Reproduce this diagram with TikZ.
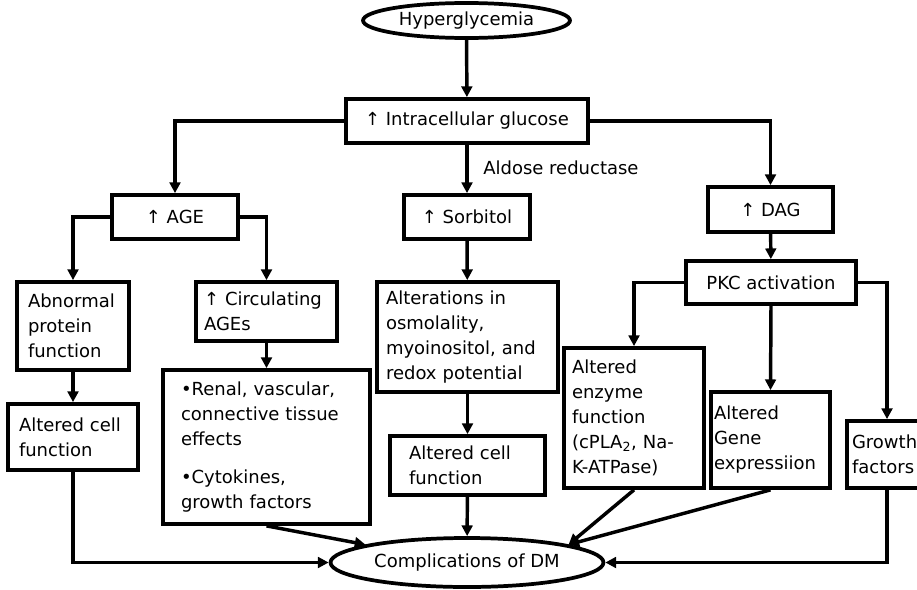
\documentclass[tikz,border=0pt]{standalone}
\usepackage{fontspec}
\setmainfont{DejaVu Sans}
\usetikzlibrary{arrows.meta,shapes.geometric}
\begin{document}
\begin{tikzpicture}[x=0.75pt,y=-0.75pt,
  font=\fontsize{13.5}{18.75}\selectfont,
  box/.style={draw,line width=2.8pt,rectangle,inner ysep=0pt,inner xsep=0pt},
  lbox/.style 2 args={box,text width=#1,inner xsep=#2,align=left},
  oval/.style={draw,line width=2.8pt,ellipse,inner sep=0pt},
  conn/.style={line width=2.6pt,-{Triangle[length=8pt,width=8pt]}}]
\path[use as bounding box,fill=white] (0,0) rectangle (917,589);
\clip (0,0) rectangle (917,589);

% top
\node[oval,minimum width=155.25pt,minimum height=26.25pt] (hyper) at (466.5,20.5) {Hyperglycemia};
\node[box,minimum width=181.5pt,minimum height=33pt] (gluc) at (467,121) {↑ Intracellular glucose};

% second row
\node[box,minimum width=94.5pt,minimum height=33pt] (age) at (175,217) {↑ AGE};
\node[box,minimum width=94.5pt,minimum height=33pt] (sorb) at (467,217) {↑ Sorbitol};
\node[box,minimum width=93.75pt,minimum height=33.75pt] (dag) at (770.5,209.5) {↑ DAG};
\node[box,minimum width=127.5pt,minimum height=32.25pt] (pkc) at (771,282.5) {PKC activation};

% third row
\node[lbox={67.5pt}{8.25pt},minimum height=66pt] (abn) at (73,326) {Abnormal\\protein\\function};
\node[lbox={93.75pt}{6pt},minimum height=44.25pt] (circ) at (266.5,311.5) {↑~Circulating\\AGEs};
\node[lbox={122.25pt}{6.75pt},minimum height=82.5pt] (alt) at (467.5,337) {Alterations~in\\osmolality,\\myoinositol,~and\\redox~potential};

% fourth row
\node[lbox={81pt}{8.25pt},minimum height=49.5pt] (cell1) at (73,437) {Altered~cell\\function};
\node[lbox={128.25pt}{13.5pt},minimum height=115.5pt] (renal) at (266.5,447) {•Renal,~vascular,\\connective~tissue\\effects\\[9.75pt]•Cytokines,\\growth~factors};
\node[lbox={87.75pt}{14.25pt},minimum height=44.25pt] (cell2) at (467.5,465.5) {Altered~cell\\function};
\node[lbox={93pt}{6pt},minimum height=105pt] (enz) at (634,418) {Altered\\enzyme\\function\\(cPLA\textsubscript{2},~Na-\\K-ATPase)};
\node[lbox={84.75pt}{2.25pt},minimum height=72pt] (gene) at (770.5,440) {Altered\\Gene\\expressiion};
\node[lbox={52.5pt}{3.75pt},minimum height=50.25pt] (grow) at (887,454.5) {Growth\\factors};

% bottom
\node[oval,minimum width=204.75pt,minimum height=36.75pt] (comp) at (467,562.5) {Complications of DM};

% label
\node[anchor=west,inner sep=0pt] (aldo) at (483,168) {Aldose reductase};

% connectors
\draw[conn] (hyper) -- (gluc);
\draw[conn] (gluc.west) -| (age.north);
\draw[conn] (gluc.east) -| (dag.north);
\draw[conn] (gluc) -- (sorb);
\draw[conn] (age.west) -| (abn.north);
\draw[conn] (age.east) -| (circ.north);
\draw[conn] (abn) -- (cell1);
\draw[conn] (circ) -- (renal);
\draw[conn] (sorb) -- (alt);
\draw[conn] (alt) -- (cell2);
\draw[conn] (dag) -- (pkc);
\draw[conn] (pkc.west) -| (enz.north);
\draw[conn] (pkc.south) -- (gene.north);
\draw[conn] (pkc.east) -| (grow.north);
\draw[conn] (cell1.south) |- (comp.west);
\draw[conn] (renal.south) -- (comp.170);
\draw[conn] (cell2) -- (comp);
\draw[conn] (enz.south) -- (comp.10);
\draw[conn] (gene.south) -- (comp.10);
\draw[conn] (grow.south) |- (comp.east);
\end{tikzpicture}
\end{document}
